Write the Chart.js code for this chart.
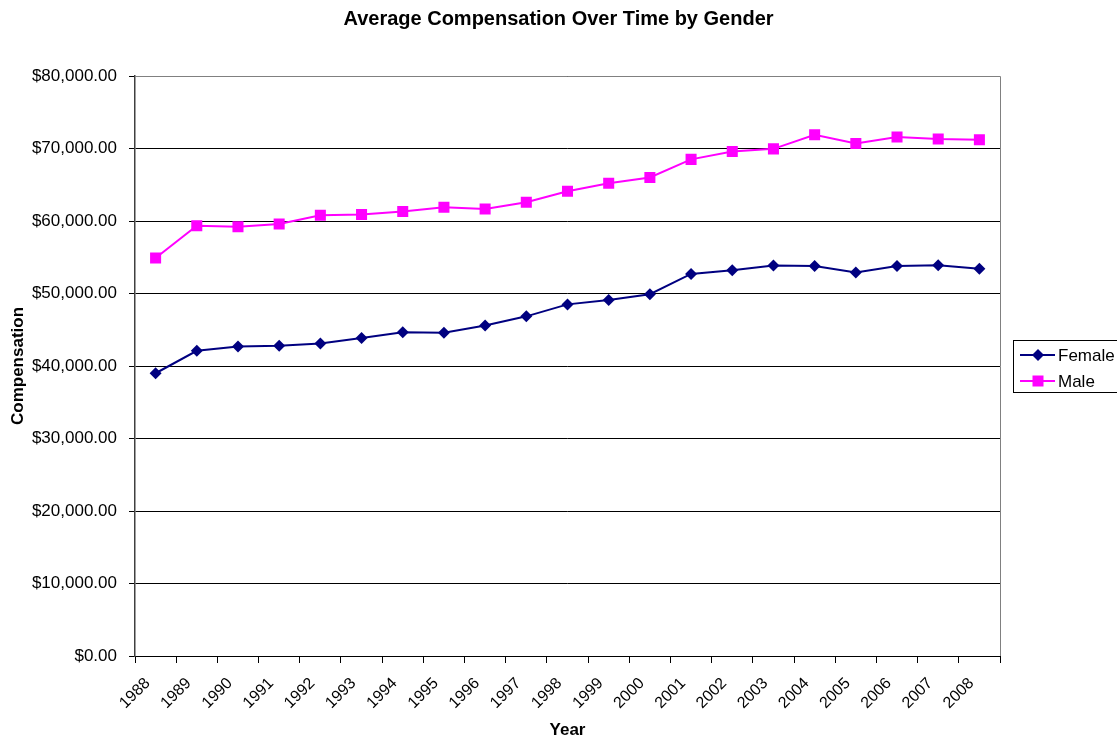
<!DOCTYPE html>
<html>
<head>
<meta charset="utf-8">
<script src="https://cdn.jsdelivr.net/npm/chart.js@4"></script>
<style>
  html, body { margin: 0; padding: 0; background: #fff; }
  #wrap { position: relative; width: 1117px; height: 740px; }
</style>
</head>
<body>
<div id="wrap"><canvas id="grafico"></canvas></div>
<script>
// --- DATOS ---
const anios = ['1988', '1989', '1990', '1991', '1992', '1993', '1994', '1995', '1996', '1997', '1998',
               '1999', '2000', '2001', '2002', '2003', '2004', '2005', '2006', '2007', '2008'];
const femenino = [39000, 42100, 42700, 42800, 43100, 43850, 44650, 44600, 45600, 46850, 48500,
                  49100, 49900, 52700, 53200, 53850, 53800, 52900, 53800, 53900, 53400];
const masculino = [54900, 59350, 59200, 59600, 60800, 60900, 61300, 61900, 61650, 62600, 64100,
                   65200, 66000, 68500, 69600, 69950, 71900, 70700, 71600, 71300, 71200];
const etiquetasSeries = ['Female', 'Male'];
const titulo = 'Average Compensation Over Time by Gender';

const fuente = '"Liberation Sans", Arial, sans-serif';
const formatoMoneda = v => '$' + v.toLocaleString('en-US', { minimumFractionDigits: 2, maximumFractionDigits: 2 });

// Titulo centrado en todo el lienzo, borde del area de trazado y leyenda estilo Excel
const pluginExcel = {
    id: 'pluginExcel',
    afterDraw(chart) {
        const { ctx, chartArea: a } = chart;
        ctx.save();
        // titulo
        ctx.fillStyle = '#000';
        ctx.font = 'bold 20px ' + fuente;
        ctx.textAlign = 'center';
        ctx.textBaseline = 'middle';
        ctx.fillText(titulo, chart.width / 2, 19);

        // borde
        ctx.strokeStyle = '#808080';
        ctx.lineWidth = 1;
        ctx.beginPath();
        ctx.moveTo(a.left, a.top + 0.5);
        ctx.lineTo(a.right + 0.5, a.top + 0.5);
        ctx.lineTo(a.right + 0.5, a.bottom);
        ctx.stroke();

        // leyenda
        const lx = 1013, ly = 340, lw = 110, lh = 52;
        ctx.strokeStyle = '#000';
        ctx.strokeRect(lx + 0.5, ly + 0.5, lw, lh);
        ctx.font = '17px ' + fuente;
        ctx.textAlign = 'left';
        chart.data.datasets.forEach((ds, i) => {
            const y = ly + 15 + i * 26;
            ctx.strokeStyle = ds.borderColor;
            ctx.lineWidth = 2;
            ctx.beginPath();
            ctx.moveTo(lx + 7, y);
            ctx.lineTo(lx + 42, y);
            ctx.stroke();
            ctx.fillStyle = ds.backgroundColor;
            ctx.beginPath();
            if (ds.pointStyle === 'rectRot') {
                ctx.moveTo(lx + 25, y - 6); ctx.lineTo(lx + 31, y);
                ctx.lineTo(lx + 25, y + 6); ctx.lineTo(lx + 19, y);
                ctx.closePath();
            } else {
                ctx.rect(lx + 19.5, y - 5.5, 11, 11);
            }
            ctx.fill();
            ctx.fillStyle = '#000';
            ctx.fillText(ds.label, lx + 45, y + 1);
        });
        ctx.restore();
    }
};

const ctx = document.getElementById('grafico').getContext('2d');
new Chart(ctx, {
    type: 'line',
    data: {
        labels: anios,
        datasets: [{
            label: etiquetasSeries[0],
            data: femenino,
            borderColor: '#000080',
            backgroundColor: '#000080',
            borderWidth: 2,
            pointStyle: 'rectRot',
            pointRadius: 6,
            pointBorderWidth: 0,
            tension: 0
        }, {
            label: etiquetasSeries[1],
            data: masculino,
            borderColor: '#FF00FF',
            backgroundColor: '#FF00FF',
            borderWidth: 2,
            pointStyle: 'rect',
            pointRadius: 7.8,
            pointBorderWidth: 0,
            tension: 0
        }]
    },
    options: {
        responsive: true,
        maintainAspectRatio: false,
        animation: false,
        layout: { padding: { left: 0, right: 117, top: 76, bottom: 0 } },
        plugins: {
            legend: { display: false },
            tooltip: { enabled: false },
            title: { display: false }
        },
        scales: {
            x: {
                offset: true,
                afterFit(scale) { scale.height = 84; },
                grid: {
                    offset: true,
                    drawOnChartArea: false,
                    drawTicks: true,
                    tickLength: 7,
                    color: '#000'
                },
                border: { color: '#000', width: 1 },
                ticks: {
                    color: '#000',
                    font: { family: fuente, size: 16 },
                    minRotation: 45,
                    maxRotation: 45,
                    autoSkip: false,
                    padding: 11,
                    labelOffset: -8
                },
                title: {
                    display: true,
                    text: 'Year',
                    color: '#000',
                    font: { family: fuente, size: 17, weight: 'bold' },
                    padding: { top: 0, bottom: -1 }
                }
            },
            y: {
                min: 0,
                max: 80000,
                afterFit(scale) { scale.width = 135; },
                grid: {
                    color: '#000',
                    lineWidth: 1,
                    tickLength: 6
                },
                border: { color: '#404040', width: 1.5 },
                ticks: {
                    stepSize: 10000,
                    color: '#000',
                    font: { family: fuente, size: 17 },
                    padding: 12,
                    callback: v => formatoMoneda(v)
                },
                title: {
                    display: true,
                    text: 'Compensation',
                    color: '#000',
                    font: { family: fuente, size: 17, weight: 'bold' },
                    padding: { top: 8, bottom: 0 }
                }
            }
        }
    },
    plugins: [pluginExcel]
});
</script>
</body>
</html>
